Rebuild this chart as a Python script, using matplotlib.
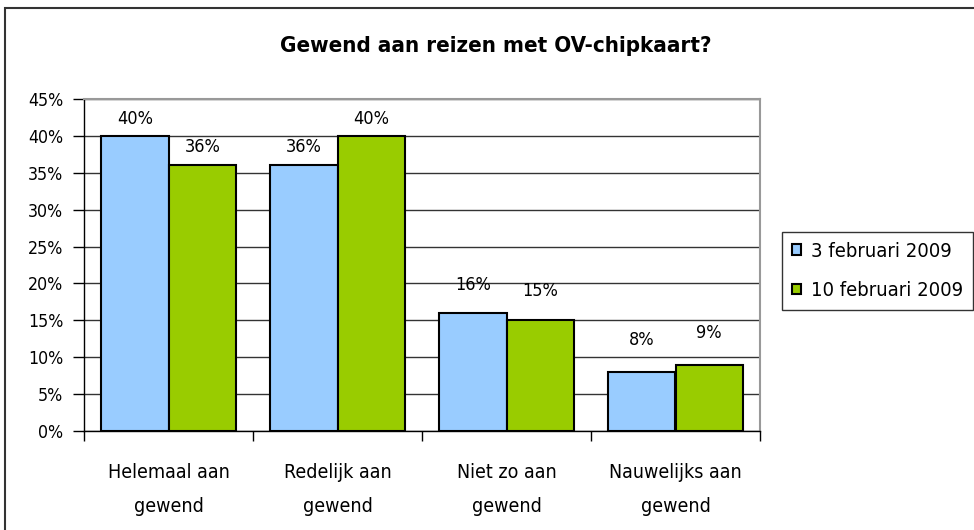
import numpy as np
import matplotlib
matplotlib.use("Agg")
import matplotlib.pyplot as plt
from matplotlib.patches import Rectangle

categories = ["Helemaal aan\ngewend", "Redelijk aan\ngewend", "Niet zo aan\ngewend", "Nauwelijks aan\ngewend"]
serie_1 = [40, 36, 16, 8]
serie_2 = [36, 40, 15, 9]
labels = ["3 februari 2009", "10 februari 2009"]
kleuren = ["#99ccff", "#99cc00"]
yticks = np.arange(0, 50, 5)

plt.rcParams['font.family'] = ['DejaVu Sans']
plt.rcParams['font.stretch'] = 'condensed'

fig = plt.figure(figsize=(9.74, 5.3), dpi=100)
ax = fig.add_axes([84/974, 1-431/530, (760-84)/974, (431-99)/530])

x = np.arange(len(categories))
w = 0.4
b1 = ax.bar(x - w/2, serie_1, w, color=kleuren[0], edgecolor="black", linewidth=1.5, label=labels[0], zorder=3)
b2 = ax.bar(x + w/2, serie_2, w, color=kleuren[1], edgecolor="black", linewidth=1.5, label=labels[1], zorder=3)

# labels staan in het origineel iets hoger naarmate de balk lager is
for bars, vals in [(b1, serie_1), (b2, serie_2)]:
    for r, v in zip(bars, vals):
        ax.text(r.get_x() + r.get_width()/2, 4.9 + 0.934*v, "%d%%" % v,
                ha="center", va="center", fontsize=13)

ax.set_xlim(-0.5, len(categories) - 0.5)
ax.set_ylim(0, 45)
ax.set_yticks(yticks)
ax.set_yticklabels(["%d%%" % t for t in yticks], fontsize=12.7)
ax.yaxis.grid(True, color="#333333", linewidth=1)
ax.set_axisbelow(True)

ax.set_xticks(np.arange(len(categories) + 1) - 0.5)
ax.set_xticklabels([])
ax.tick_params(axis="x", length=7, width=1, direction="out", color="black")
ax.tick_params(axis="y", length=8, width=1, direction="out", color="black", pad=7)
for i, c in enumerate(categories):
    ax.text(i, -4.4, c, ha="center", va="top", fontsize=14, linespacing=2.0)

for s in ["left", "bottom"]:
    ax.spines[s].set_color("black")
    ax.spines[s].set_linewidth(1)
for s in ["top", "right"]:
    ax.spines[s].set_color("#999999")
    ax.spines[s].set_linewidth(1.5)

fig.text(496/974, 1-52/530, "Gewend aan reizen met OV-chipkaart?", ha="center", va="baseline",
         fontsize=16, fontweight="bold")

leg = fig.legend(handles=[b1, b2], labels=labels, loc="upper left",
                 bbox_to_anchor=(782/974, 1-232/530), fontsize=14.5, frameon=True,
                 fancybox=False, edgecolor="black", handlelength=0.45, handleheight=0.45,
                 handletextpad=0.5, labelspacing=1.0, borderpad=0.5, borderaxespad=0)
leg.get_frame().set_linewidth(1)

# buitenrand van de grafiek
fig.patches.append(Rectangle((5/974, -0.1), 1.2, 1 - 8/530 + 0.1, transform=fig.transFigure,
                             fill=False, edgecolor="#333333", linewidth=1.5))

fig.savefig("out.png", dpi=100)
